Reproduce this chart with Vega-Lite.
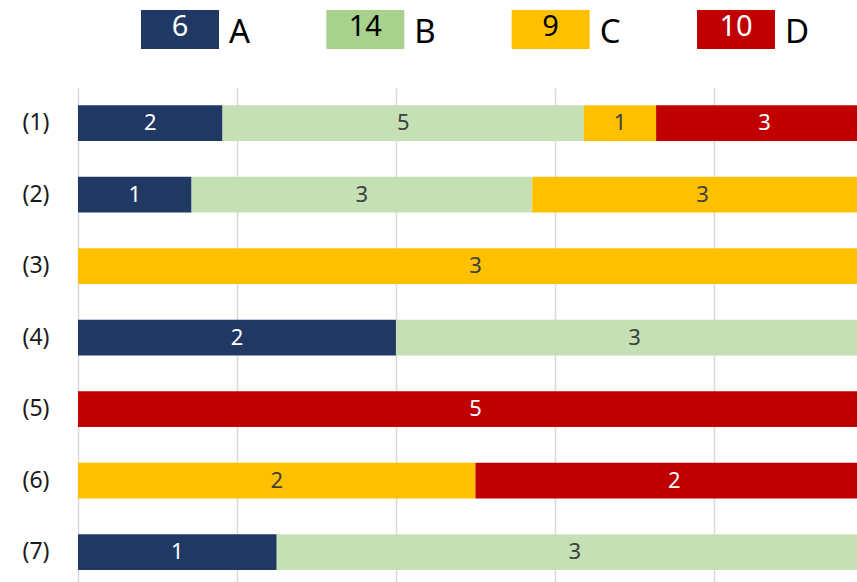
{
  "$schema": "https://vega.github.io/schema/vega-lite/v6.json",
  "autosize": {"type": "pad"},
  "padding": {"left": 22, "top": 10, "right": 0, "bottom": 0},
  "config": {"view": {"stroke": null}, "font": "Noto Sans", "concat": {"spacing": 38}},
  "datasets": {
    "legend": [
      {"cat": "A", "total": 6},
      {"cat": "B", "total": 14},
      {"cat": "C", "total": 9},
      {"cat": "D", "total": 10}
    ],
    "bars": [
      {"row": "(1)", "cat": "A", "n": 2},
      {"row": "(1)", "cat": "B", "n": 5},
      {"row": "(1)", "cat": "C", "n": 1},
      {"row": "(1)", "cat": "D", "n": 3},
      {"row": "(2)", "cat": "A", "n": 1},
      {"row": "(2)", "cat": "B", "n": 3},
      {"row": "(2)", "cat": "C", "n": 3},
      {"row": "(3)", "cat": "C", "n": 3},
      {"row": "(4)", "cat": "A", "n": 2},
      {"row": "(4)", "cat": "B", "n": 3},
      {"row": "(5)", "cat": "D", "n": 5},
      {"row": "(6)", "cat": "C", "n": 2},
      {"row": "(6)", "cat": "D", "n": 2},
      {"row": "(7)", "cat": "A", "n": 1},
      {"row": "(7)", "cat": "B", "n": 3}
    ]
  },
  "resolve": {"scale": {"color": "independent"}},
  "vconcat": [
    {
      "width": 779,
      "height": 39,
      "data": {"name": "legend"},
      "encoding": {
        "x": {"field": "cat", "type": "nominal", "axis": null, "scale": {"type": "point", "padding": 0, "range": [102, 658]}}
      },
      "layer": [
        {
          "mark": {"type": "bar", "width": 78},
          "encoding": {
            "color": {"field": "cat", "type": "nominal", "legend": null,
              "scale": {"domain": ["A", "B", "C", "D"], "range": ["#203864", "#A9D18E", "#FFC000", "#C00000"]}}
          }
        },
        {
          "mark": {"type": "text", "align": "center", "baseline": "middle", "dy": -3, "fontSize": 29},
          "encoding": {
            "text": {"field": "total", "type": "quantitative"},
            "color": {"condition": {"test": "datum.cat === 'A' || datum.cat === 'D'", "value": "#ffffff"}, "value": "#000000"}
          }
        },
        {
          "mark": {"type": "text", "align": "left", "baseline": "middle", "dx": 49, "dy": 3, "fontSize": 33, "color": "#000000"},
          "encoding": {
            "text": {"field": "cat", "type": "nominal"}
          }
        }
      ]
    },
    {
      "width": 779,
      "height": 495,
      "data": {"name": "bars"},
      "encoding": {
        "y": {"field": "row", "type": "nominal", "sort": null,
          "scale": {"paddingInner": 0.5, "paddingOuter": 0.2115, "align": 0.57},
          "axis": {"title": null, "ticks": false, "domain": false, "labelPadding": 29, "labelFontSize": 23, "labelColor": "#1a1a1a"}}
      },
      "layer": [
        {
          "mark": {"type": "bar", "clip": true},
          "encoding": {
            "x": {"field": "n", "type": "quantitative", "stack": "normalize",
              "scale": {"domain": [0, 0.98], "nice": false},
              "axis": {"title": null, "labels": false, "ticks": false, "domain": false, "values": [0, 0.2, 0.4, 0.6, 0.8], "gridColor": "#d9d9d9", "gridWidth": 1.5}},
            "color": {"field": "cat", "type": "nominal", "legend": null,
              "scale": {"domain": ["A", "B", "C", "D"], "range": ["#203864", "#C5E0B4", "#FFC000", "#C00000"]}},
            "order": {"field": "cat"}
          }
        },
        {
          "mark": {"type": "text", "align": "center", "baseline": "middle", "fontSize": 22},
          "encoding": {
            "x": {"field": "n", "type": "quantitative", "stack": "normalize", "bandPosition": 0.5},
            "detail": {"field": "cat"},
            "order": {"field": "cat"},
            "text": {"field": "n", "type": "quantitative"},
            "color": {"condition": {"test": "datum.cat === 'A' || datum.cat === 'D'", "value": "#ffffff"}, "value": "#404040"}
          }
        }
      ]
    }
  ]
}
